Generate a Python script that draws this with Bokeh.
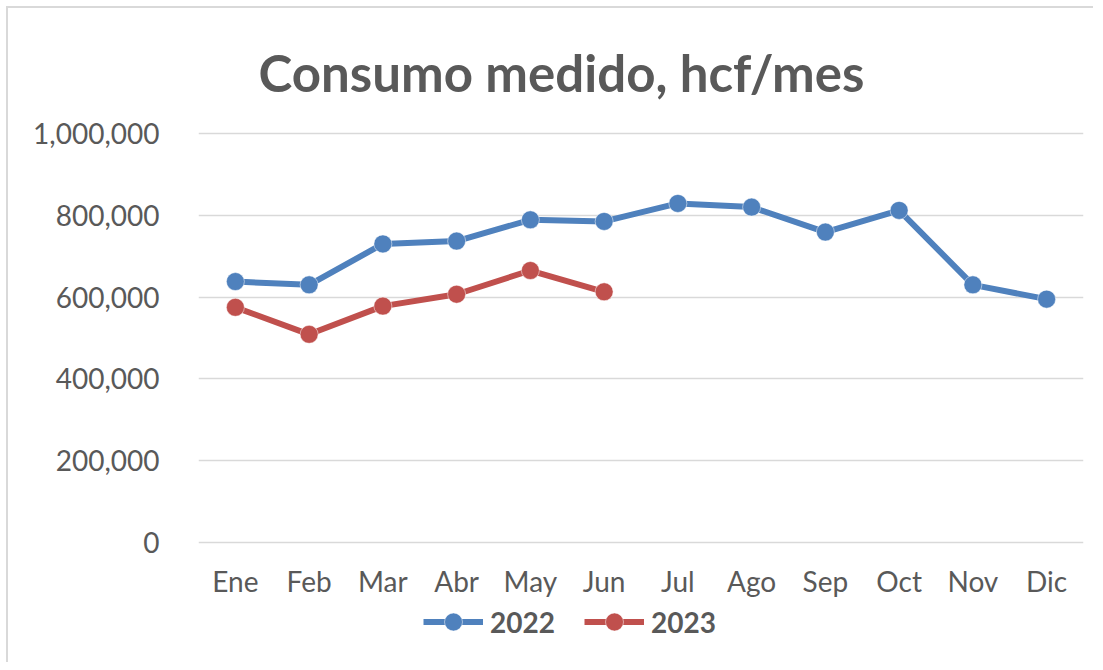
from bokeh.plotting import figure
from bokeh.models import FactorRange, Range1d, FixedTicker, NumeralTickFormatter, Legend, LegendItem, ColumnDataSource
from bokeh.core.properties import value
from bokeh.embed import file_html
from bokeh.resources import INLINE

months = ["Ene", "Feb", "Mar", "Abr", "May", "Jun", "Jul", "Ago", "Sep", "Oct", "Nov", "Dic"]
values_2022 = [638000, 630000, 730000, 737000, 789000, 785000, 829000, 820000, 759000, 812000, 630000, 595000]
months_2023 = ["Ene", "Feb", "Mar", "Abr", "May", "Jun"]
values_2023 = [575000, 509000, 578000, 607000, 665000, 613000]
y_ticks = [0, 200000, 400000, 600000, 800000, 1000000]

BLUE = "#4F81BD"
RED = "#C0504D"
GREY = "#595959"
FONT = "Lato"

# layout (page pixels); the figure canvas starts at page (8, 8)
OFF = 8
W, H = 1087, 656
FRAME_L, FRAME_R, FRAME_T, FRAME_B = 198, 1083, 131, 660
Y_TOP_PX, ZERO_PX = 133, 542          # page y of 1,000,000 and of 0
Y_MAX = 1000000
PX = (ZERO_PX - Y_TOP_PX) / Y_MAX     # pixels per unit
y_end = Y_MAX + (Y_TOP_PX - FRAME_T) / PX
y_start = -(FRAME_B - ZERO_PX) / PX   # room under the zero line for labels and legend

p = figure(width=W, height=H, x_range=FactorRange(factors=months, range_padding=0),
           y_range=Range1d(y_start, y_end), output_backend="svg", toolbar_location=None,
           min_border_left=FRAME_L - OFF, min_border_right=W - (FRAME_R - OFF),
           min_border_top=FRAME_T - OFF, min_border_bottom=H - (FRAME_B - OFF))
p.styles = {"margin-left": "6px", "margin-top": "6px",
            "border-left": "2px solid #D9D9D9", "border-top": "2px solid #D9D9D9",
            "border-right": "none", "border-bottom": "none"}

p.title.text = "Consumo medido, hcf/mes"
p.title.align = "left"
p.title.offset = 60
p.title.text_font = FONT
p.title.text_font_size = "51px"
p.title.text_font_style = "bold"
p.title.text_color = GREY
p.title.standoff = 58

p.outline_line_color = None
p.xgrid.grid_line_color = None
p.ygrid.grid_line_color = "#D9D9D9"
p.ygrid.grid_line_width = 1.5

p.yaxis.ticker = FixedTicker(ticks=y_ticks)
p.yaxis.formatter = NumeralTickFormatter(format="0,0")
p.yaxis.axis_line_color = None
p.yaxis.major_tick_line_color = None
p.yaxis.minor_tick_line_color = None
p.yaxis.major_label_text_font = FONT
p.yaxis.major_label_text_font_size = "28px"
p.yaxis.major_label_text_color = GREY
p.yaxis.major_label_standoff = 33
p.xaxis.visible = False

# month labels under the zero line
lab = ColumnDataSource(dict(x=months, y=[0] * len(months), t=months))
p.text(x="x", y="y", text="t", source=lab, y_offset=38, text_align="center", text_baseline="middle",
       text_font=value(FONT), text_font_size="28px", text_color=GREY)

l1 = p.line(months, values_2022, line_color=BLUE, line_width=6)
s1 = p.scatter(months, values_2022, size=18, fill_color=BLUE, line_color="#FFFFFF", line_width=0.5)
l2 = p.line(months_2023, values_2023, line_color=RED, line_width=6)
s2 = p.scatter(months_2023, values_2023, size=18, fill_color=RED, line_color="#FFFFFF", line_width=0.5)

legend = Legend(items=[LegendItem(label="2022", renderers=[l1, s1]),
                       LegendItem(label="2023", renderers=[l2, s2])],
                orientation="horizontal", location=(225, 16),
                label_text_font=FONT, label_text_font_size="28px", label_text_font_style="bold",
                label_text_color=GREY, glyph_width=60, glyph_height=45, label_standoff=7,
                spacing=29, padding=0, margin=0, border_line_color=None, background_fill_color=None)
p.add_layout(legend, "center")

open("out.html", "w").write(file_html(p, INLINE))
